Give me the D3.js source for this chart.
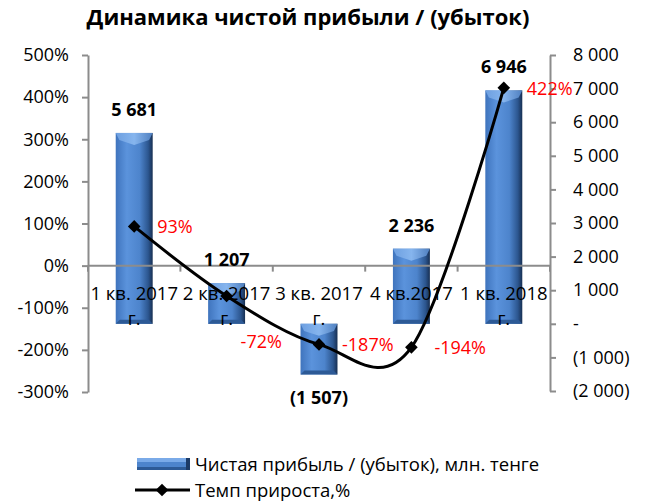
<!DOCTYPE html>
<html>
<head>
<meta charset="utf-8">
<script src="https://cdn.jsdelivr.net/npm/d3@7"></script>
<style>
  body { margin: 0; background: #fff; }
  svg text { font-family: "Open Sans", sans-serif; }
</style>
</head>
<body>
<div id="chart"></div>
<script>
// data
var categories = ["1 кв. 2017 г.", "2 кв. 2017 г.", "3 кв. 2017 г.", "4 кв.2017", "1 кв. 2018 г."];
var profit = [5681, 1207, -1507, 2236, 6946];        // млн. тенге
var growth = [93, -72, -187, -194, 422];             // %
var pctTicks = [-300, -200, -100, 0, 100, 200, 300, 400, 500];
var amtTicks = [-2000, -1000, 0, 1000, 2000, 3000, 4000, 5000, 6000, 7000, 8000];

var W = 645, H = 501;
var plotL = 88, plotR = 550, plotT = 55, plotB = 392;
var axisColor = "#8c8c8c";

var svg = d3.select("#chart").append("svg")
  .attr("width", W).attr("height", H);

var defs = svg.append("defs");
var g1 = defs.append("linearGradient").attr("id", "barFace")
  .attr("x1", 0).attr("x2", 1).attr("y1", 0).attr("y2", 0);
g1.append("stop").attr("offset", "0%").attr("stop-color", "#3f74bd");
g1.append("stop").attr("offset", "30%").attr("stop-color", "#5b93dc");
g1.append("stop").attr("offset", "65%").attr("stop-color", "#4d84cc");
g1.append("stop").attr("offset", "88%").attr("stop-color", "#2c568f");
g1.append("stop").attr("offset", "100%").attr("stop-color", "#172f52");
var g2 = defs.append("linearGradient").attr("id", "barTop")
  .attr("x1", 0).attr("x2", 1).attr("y1", 0).attr("y2", 0);
g2.append("stop").attr("offset", "0%").attr("stop-color", "#6d9fe0");
g2.append("stop").attr("offset", "50%").attr("stop-color", "#86b5ee");
g2.append("stop").attr("offset", "100%").attr("stop-color", "#4f7fbf");

var x = d3.scaleBand().domain(categories).range([plotL, plotR]).padding(0);
var yL = d3.scaleLinear().domain([-300, 500]).range([plotB, plotT]);
var yR = d3.scaleLinear().domain([-2000, 8000]).range([plotB - 1, plotT]);

var fmtLocale = d3.formatLocale({decimal: ",", thousands: " ", grouping: [3], currency: ["", ""]});
var fmtNum = fmtLocale.format(",");
function amtFmt(d) {
  if (d === 0) return "-";
  return d < 0 ? "(" + fmtNum(-d) + ")" : fmtNum(d);
}

// title
svg.append("text")
  .attr("x", 308).attr("y", 25)
  .attr("text-anchor", "middle")
  .style("font-size", "22px").style("font-weight", "bold")
  .text("Динамика чистой прибыли / (убыток)");

// bars (3D-ish bevel)
var barW = x.bandwidth() * 0.4;
function drawBar(sel, x0, y0, w, h) {
  sel.append("rect").attr("x", x0).attr("y", y0).attr("width", w).attr("height", h)
    .attr("fill", "url(#barFace)");
  var bev = Math.min(12, h / 2);
  sel.append("path")
    .attr("d", "M" + x0 + "," + y0 + "L" + (x0 + w) + "," + y0 + "L" + (x0 + w - bev * 0.3) + "," + (y0 + bev * 0.6) +
      "L" + (x0 + w / 2) + "," + (y0 + bev) + "L" + (x0 + bev * 0.3) + "," + (y0 + bev * 0.6) + "Z")
    .attr("fill", "url(#barTop)");
  var bb = Math.min(4, h / 4);
  sel.append("path")
    .attr("d", "M" + x0 + "," + (y0 + h) + "L" + (x0 + w) + "," + (y0 + h) + "L" + (x0 + w - bb) + "," + (y0 + h - bb) +
      "L" + (x0 + bb) + "," + (y0 + h - bb) + "Z")
    .attr("fill", "#2d5a96");
}

var barG = svg.append("g");
profit.forEach(function(v, i) {
  var cx = x(categories[i]) + x.bandwidth() / 2;
  var y0 = Math.min(yR(v), yR(0));
  var h = Math.abs(yR(v) - yR(0));
  drawBar(barG.append("g"), cx - barW / 2, y0, barW, h);
});

// left axis
var axL = svg.append("g").attr("transform", "translate(" + plotL + ",0)")
  .call(d3.axisLeft(yL).tickValues(pctTicks).tickSize(6).tickSizeOuter(0).tickPadding(13)
    .tickFormat(function(d) { return d + "%"; }));
// right axis
var axR = svg.append("g").attr("transform", "translate(" + plotR + ",0)")
  .call(d3.axisRight(yR).tickValues(amtTicks).tickSize(6).tickSizeOuter(0).tickPadding(17)
    .tickFormat(amtFmt));
[axL, axR].forEach(function(a) {
  a.select(".domain").attr("stroke", axisColor).attr("stroke-width", 2);
  a.selectAll(".tick line").attr("stroke", axisColor).attr("stroke-width", 2);
  a.selectAll(".tick text").style("font-size", "18px").attr("fill", "#000").attr("font-family", "Open Sans");
});

// category axis at 0%
var zeroY = yL(0);
var catG = svg.append("g");
catG.append("line").attr("x1", plotL).attr("x2", plotR).attr("y1", zeroY).attr("y2", zeroY)
  .attr("stroke", axisColor).attr("stroke-width", 2);
var bounds = categories.map(function(c) { return x(c); }).concat([plotR]);
catG.selectAll(".ctick").data(bounds).enter().append("line")
  .attr("x1", function(d) { return d; }).attr("x2", function(d) { return d; })
  .attr("y1", zeroY).attr("y2", zeroY + 6)
  .attr("stroke", axisColor).attr("stroke-width", 2);
categories.forEach(function(c) {
  var cx = x(c) + x.bandwidth() / 2;
  var m = c.match(/^(.*) (г\.)$/);
  var lines = m ? [m[1], m[2]] : [c];
  var t = catG.append("text").attr("text-anchor", "middle").style("font-size", "18.5px");
  lines.forEach(function(l, j) {
    t.append("tspan").attr("x", cx).attr("y", 300 + j * 25).text(l);
  });
});

// growth line
var pts = growth.map(function(v, i) {
  return [x(categories[i]) + x.bandwidth() / 2, yL(v)];
});
svg.append("path")
  .attr("d", d3.line().curve(d3.curveCatmullRom.alpha(0))(pts))
  .attr("fill", "none").attr("stroke", "#000").attr("stroke-width", 3);
var diamond = d3.symbol().type(d3.symbolSquare).size(80);
svg.selectAll(".mk").data(pts).enter().append("path")
  .attr("d", diamond)
  .attr("transform", function(d) { return "translate(" + d[0] + "," + d[1] + ") rotate(45)"; })
  .attr("fill", "#000");

// value labels
profit.forEach(function(v, i) {
  var cx = x(categories[i]) + x.bandwidth() / 2;
  var ty = v >= 0 ? yR(v) - 17 : yR(v) + 30;
  svg.append("text").attr("x", cx).attr("y", ty).attr("text-anchor", "middle")
    .style("font-size", "18px").style("font-weight", "bold")
    .text(amtFmt(v));
});

// percentage labels (2nd one is moved below the line)
growth.forEach(function(v, i) {
  var dx = 23, dy = 7;
  if (i === 1) { dx = 14; dy = 52; }
  svg.append("text").attr("x", pts[i][0] + dx).attr("y", pts[i][1] + dy)
    .style("font-size", "18px").attr("fill", "#ff0000")
    .text(v + "%");
});

// legend
var lg = svg.append("g");
var lb = lg.append("g");
lb.append("rect").attr("x", 137).attr("y", 458).attr("width", 53).attr("height", 12).attr("fill", "#4d84cc");
lb.append("rect").attr("x", 137).attr("y", 458).attr("width", 53).attr("height", 4).attr("fill", "#7aaae8");
lb.append("rect").attr("x", 137).attr("y", 467).attr("width", 53).attr("height", 3).attr("fill", "#2d5a96");
lb.append("rect").attr("x", 186).attr("y", 458).attr("width", 4).attr("height", 12).attr("fill", "#1c3a66");
lg.append("text").attr("x", 195).attr("y", 471).style("font-size", "18.5px")
  .text("Чистая прибыль / (убыток), млн. тенге");
lg.append("line").attr("x1", 135).attr("x2", 190).attr("y1", 490).attr("y2", 490)
  .attr("stroke", "#000").attr("stroke-width", 3);
lg.append("path").attr("d", diamond).attr("transform", "translate(162,490) rotate(45)").attr("fill", "#000");
lg.append("text").attr("x", 195).attr("y", 497).style("font-size", "18.5px")
  .text("Темп прироста,%");
</script>
</body>
</html>
